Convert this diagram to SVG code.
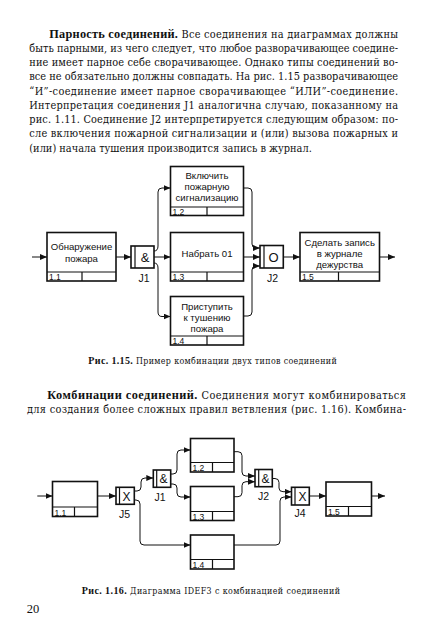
<svg xmlns="http://www.w3.org/2000/svg" width="427" height="640" viewBox="0 0 427 640">
<style>
.body{font-family:"DejaVu Serif Condensed","DejaVu Serif",serif;font-size:10.9px;fill:#111}
.b{font-family:"Liberation Serif","Times New Roman",serif;font-weight:bold;font-size:12.3px}
.cap{font-family:"DejaVu Serif Condensed","DejaVu Serif",serif;font-size:8.8px;fill:#111}
.cb{font-family:"Liberation Serif","Times New Roman",serif;font-weight:bold;font-size:10px}
.lbl{font-family:"Liberation Sans",Arial,sans-serif;font-size:9.6px;fill:#111;text-anchor:middle}
.num{font-family:"Liberation Sans",Arial,sans-serif;font-size:8.5px;fill:#111}
.jl{font-family:"Liberation Sans",Arial,sans-serif;font-size:10.5px;fill:#111;text-anchor:middle}
.js{font-family:"Liberation Sans",Arial,sans-serif;font-size:13px;fill:#111;text-anchor:middle}
.box{fill:#fff;stroke:#111;stroke-width:1.6}
.ln{stroke:#111;stroke-width:1.2;fill:none}
.jb{fill:#fff;stroke:#111;stroke-width:1.6}
.con{stroke:#111;stroke-width:1;fill:none;marker-end:url(#ah)}
</style>
<defs>
<marker id="ah" markerUnits="userSpaceOnUse" markerWidth="8" markerHeight="6" refX="7" refY="3" orient="auto">
<path d="M0,0 L7,3 L0,6 z" fill="#111"/>
</marker>
</defs>
<rect x="0" y="0" width="427" height="640" fill="#fff"/>

<g id="paragraph1">
<text class="body" x="49.3" y="37.5" textLength="348.7" lengthAdjust="spacing"><tspan class="b">Парность соединений.</tspan> Все соединения на диаграммах должны</text>
<text class="body" x="29.3" y="51.75" textLength="368.7" lengthAdjust="spacing">быть парными, из чего следует, что любое разворачивающее соедине-</text>
<text class="body" x="29.3" y="66" textLength="368.7" lengthAdjust="spacing">ние имеет парное себе сворачивающее. Однако типы соединений во-</text>
<text class="body" x="29.3" y="80.25" textLength="368.7" lengthAdjust="spacing">все не обязательно должны совпадать. На рис. 1.15 разворачивающее</text>
<text class="body" x="29.3" y="94.5" textLength="368.7" lengthAdjust="spacing">“И”-соединение имеет парное сворачивающее “ИЛИ”-соединение.</text>
<text class="body" x="29.3" y="108.75" textLength="368.7" lengthAdjust="spacing">Интерпретация соединения J1 аналогична случаю, показанному на</text>
<text class="body" x="29.3" y="123" textLength="368.7" lengthAdjust="spacing">рис. 1.11. Соединение J2 интерпретируется следующим образом: по-</text>
<text class="body" x="29.3" y="137.25" textLength="368.7" lengthAdjust="spacing">сле включения пожарной сигнализации и (или) вызова пожарных и</text>
<text class="body" x="29.3" y="151.5" textLength="282.5" lengthAdjust="spacing">(или) начала тушения производится запись в журнал.</text>
</g>

<g id="fig15-connectors">
<path class="con" d="M32,257 H47"/>
<path class="con" d="M116,257 H131"/>
<path class="con" d="M154,251 Q158,251 158,246 V192 Q158,188 162,188 H170.5"/>
<path class="con" d="M154,257 H170.5"/>
<path class="con" d="M154,263 Q158,263 158,268 V312 Q158,316.5 162,316.5 H170.5"/>
<path class="con" d="M243.5,188 H248 Q252,188 252,192 V244 Q252,248 256,248 H260"/>
<path class="con" d="M243.5,257 H260"/>
<path class="con" d="M243.5,316 H248 Q252,316 252,312 V270 Q252,266 256,266 H260"/>
<path class="con" d="M283.3,257 H300"/>
<path class="con" d="M379.5,257 H395"/>
</g>

<g id="fig15-box11">
<rect class="box" x="47" y="232.5" width="69" height="48.5"/>
<path class="ln" d="M47,272 H116 M82,272 V281"/>
<text class="lbl" x="81.5" y="250">Обнаружение</text>
<text class="lbl" x="81.5" y="261.5">пожара</text>
<text class="num" x="49" y="280">1.1</text>
</g>
<g id="fig15-J1">
<rect class="jb" x="131" y="246" width="23" height="22"/>
<path class="ln" d="M135,246 V268"/>
<text class="js" x="145" y="261.5">&amp;</text>
<text class="jl" x="144" y="282">J1</text>
</g>
<g id="fig15-box12">
<rect class="box" x="170.5" y="166.5" width="73" height="49"/>
<path class="ln" d="M170.5,207 H243.5 M207,207 V215.5"/>
<text class="lbl" x="207" y="179">Включить</text>
<text class="lbl" x="207" y="190">пожарную</text>
<text class="lbl" x="207" y="201">сигнализацию</text>
<text class="num" x="172.5" y="214.5">1.2</text>
</g>
<g id="fig15-box13">
<rect class="box" x="170.5" y="232.5" width="73" height="48.5"/>
<path class="ln" d="M170.5,272 H243.5 M207,272 V281"/>
<text class="lbl" x="207" y="257">Набрать 01</text>
<text class="num" x="172.5" y="280">1.3</text>
</g>
<g id="fig15-box14">
<rect class="box" x="170.5" y="296.5" width="73" height="48.5"/>
<path class="ln" d="M170.5,336 H243.5 M207,336 V345"/>
<text class="lbl" x="207" y="310">Приступить</text>
<text class="lbl" x="207" y="321">к тушению</text>
<text class="lbl" x="207" y="332">пожара</text>
<text class="num" x="172.5" y="344">1.4</text>
</g>
<g id="fig15-J2">
<rect class="jb" x="260" y="245.5" width="23.3" height="22.5"/>
<path class="ln" d="M264,245.5 V268"/>
<text class="js" x="273.5" y="261.5">O</text>
<text class="jl" x="272.5" y="282">J2</text>
</g>
<g id="fig15-box15">
<rect class="box" x="300" y="232.5" width="79.5" height="48.5"/>
<path class="ln" d="M300,272 H379.5 M338.5,272 V281"/>
<text class="lbl" x="339.7" y="245.5">Сделать запись</text>
<text class="lbl" x="339.7" y="256.5">в журнале</text>
<text class="lbl" x="339.7" y="267.5">дежурства</text>
<text class="num" x="302" y="280">1.5</text>
</g>

<text class="cap" x="88.3" y="364" textLength="248.4" lengthAdjust="spacing"><tspan class="cb">Рис. 1.15.</tspan> Пример комбинации двух типов соединений</text>

<g id="paragraph2">
<text class="body" x="47.3" y="399" textLength="358.7" lengthAdjust="spacing"><tspan class="b">Комбинации соединений.</tspan> Соединения могут комбинироваться</text>
<text class="body" x="27" y="413" textLength="379" lengthAdjust="spacing">для создания более сложных правил ветвления (рис. 1.16). Комбина-</text>
</g>

<g id="fig16-connectors">
<path class="con" d="M37.3,496 H52.5"/>
<path class="con" d="M97.5,496 H116"/>
<path class="con" d="M134.3,491 H137 Q141,491 141,487 V482 Q141,478 145,478 H153.3"/>
<path class="con" d="M134.3,500 H136 Q140,500 140,504 V541 Q140,545 144,545 H190.5"/>
<path class="con" d="M170.7,474 H173 Q177,474 177,470 V454 Q177,450 181,450 H190.5"/>
<path class="con" d="M170.7,484 H173 Q177,484 177,488 V493 Q177,497 181,497 H190.5"/>
<path class="con" d="M234,451.7 H238 Q242,451.7 242,455.7 V472 Q242,476 246,476 H255"/>
<path class="con" d="M234,496.7 H238 Q242,496.7 242,492.7 V485.7 Q242,481.7 246,481.7 H255"/>
<path class="con" d="M272.3,478.5 H275 Q279,478.5 279,482.5 V488 Q279,491.7 283,491.7 H291.5"/>
<path class="con" d="M234,545 H276 Q280,545 280,541 V501 Q280,497 284,497 H291.5"/>
<path class="con" d="M309.3,496 H326"/>
<path class="con" d="M371.5,496 H385"/>
</g>

<g id="fig16-box11">
<rect class="box" x="52.5" y="481.5" width="45" height="35"/>
<path class="ln" d="M52.5,507 H97.5 M74.5,507 V516.5"/>
<text class="num" x="54.5" y="515.5">1.1</text>
</g>
<g id="fig16-J5">
<rect class="jb" x="116" y="487.3" width="18.3" height="17"/>
<path class="ln" d="M119.5,487.3 V504.3"/>
<text class="js" x="126.5" y="500.5" style="font-size:12px">X</text>
<text class="jl" x="124.5" y="518">J5</text>
</g>
<g id="fig16-J1">
<rect class="jb" x="153.3" y="470" width="17.4" height="17.3"/>
<path class="ln" d="M156.7,470 V487.3"/>
<text class="js" x="163.5" y="483" style="font-size:12px">&amp;</text>
<text class="jl" x="160" y="501">J1</text>
</g>
<g id="fig16-box12">
<rect class="box" x="190.5" y="438.5" width="43.5" height="33.5"/>
<path class="ln" d="M190.5,462.5 H234 M212.5,462.5 V472"/>
<text class="num" x="192.5" y="471">1.2</text>
</g>
<g id="fig16-box13">
<rect class="box" x="190.5" y="486.5" width="43.5" height="34"/>
<path class="ln" d="M190.5,511.5 H234 M212.5,511.5 V520.5"/>
<text class="num" x="192.5" y="519.5">1.3</text>
</g>
<g id="fig16-box14">
<rect class="box" x="190.5" y="535" width="43.5" height="34"/>
<path class="ln" d="M190.5,559.5 H234 M212.5,559.5 V569"/>
<text class="num" x="192.5" y="568">1.4</text>
</g>
<g id="fig16-J2">
<rect class="jb" x="255" y="469.5" width="17.3" height="17.2"/>
<path class="ln" d="M258.7,469.5 V486.7"/>
<text class="js" x="265.5" y="482.5" style="font-size:12px">&amp;</text>
<text class="jl" x="263.5" y="500">J2</text>
</g>
<g id="fig16-J4">
<rect class="jb" x="291.5" y="487.3" width="17.8" height="17.7"/>
<path class="ln" d="M295,487.3 V505"/>
<text class="js" x="302.5" y="500.5" style="font-size:12px">X</text>
<text class="jl" x="300" y="516.5">J4</text>
</g>
<g id="fig16-box15">
<rect class="box" x="326" y="482" width="45.5" height="34"/>
<path class="ln" d="M326,506.5 H371.5 M348.5,506.5 V516"/>
<text class="num" x="328" y="515">1.5</text>
</g>

<text class="cap" x="81.7" y="593.5" textLength="258.3" lengthAdjust="spacing"><tspan class="cb">Рис. 1.16.</tspan> Диаграмма IDEF3 с комбинацией соединений</text>

<text x="26.7" y="612.5" style="font-family:'Liberation Serif',serif;font-size:12.5px;fill:#111">20</text>
</svg>
